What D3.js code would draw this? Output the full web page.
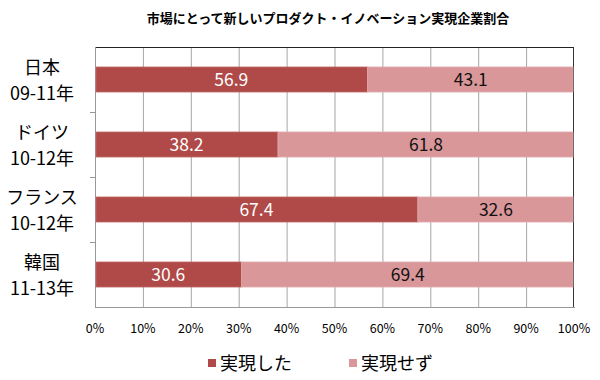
<!DOCTYPE html>
<html>
<head>
<meta charset="utf-8">
<script src="https://cdn.jsdelivr.net/npm/d3@7"></script>
<style>
body { margin: 0; background: #fff; }
svg { font-family: "Noto Sans CJK JP", "Noto Sans", sans-serif; }
</style>
</head>
<body>
<script>
// chart data
var countries = ["日本", "ドイツ", "フランス", "韓国"];
var periods = ["09-11年", "10-12年", "10-12年", "11-13年"];
var realized = [56.9, 38.2, 67.4, 30.6];
var notRealized = [43.1, 61.8, 32.6, 69.4];
var seriesNames = ["実現した", "実現せず"];
var seriesColors = ["#b04a48", "#d9979a"];
var xTicks = [0, 10, 20, 30, 40, 50, 60, 70, 80, 90, 100];

var width = 600, height = 380;
var plotLeft = 95, plotRight = 574, plotTop = 47, plotBottom = 307;

var svg = d3.select("body").append("svg")
    .attr("width", width)
    .attr("height", height);

var x = d3.scaleLinear().domain([0, 100]).range([plotLeft, plotRight]);
var y = d3.scaleBand().domain(countries).range([plotTop, plotBottom]).paddingInner(0.615).paddingOuter(0.3075);

// title
svg.append("text")
    .attr("x", 328).attr("y", 23)
    .attr("text-anchor", "middle")
    .style("font-size", "13px")
    .style("font-weight", "bold")
    .text("市場にとって新しいプロダクト・イノベーション実現企業割合");

// grid
svg.append("g").selectAll("line")
    .data(xTicks.slice(1, -1))
    .enter().append("line")
    .attr("x1", d => x(d) + 0.5).attr("x2", d => x(d) + 0.5)
    .attr("y1", plotTop).attr("y2", plotBottom)
    .attr("stroke", "#a6a6a6");

// frame
svg.append("line").attr("x1", plotLeft).attr("x2", plotRight).attr("y1", plotTop + 0.5).attr("y2", plotTop + 0.5).attr("stroke", "#222");
svg.append("line").attr("x1", plotRight - 0.5).attr("x2", plotRight - 0.5).attr("y1", plotTop).attr("y2", plotBottom).attr("stroke", "#333");
svg.append("line").attr("x1", plotLeft).attr("x2", plotRight + 1).attr("y1", plotBottom + 0.5).attr("y2", plotBottom + 0.5).attr("stroke", "#999");
svg.append("line").attr("x1", plotLeft + 0.5).attr("x2", plotLeft + 0.5).attr("y1", plotTop).attr("y2", plotBottom).attr("stroke", "#999");

// category ticks
svg.append("g").selectAll("line")
    .data(countries.slice(1))
    .enter().append("line")
    .attr("x1", plotLeft - 5).attr("x2", plotLeft)
    .attr("y1", d => y(d) - y.step() * y.paddingInner() / 2 + 0.5)
    .attr("y2", d => y(d) - y.step() * y.paddingInner() / 2 + 0.5)
    .attr("stroke", "#999");

// bars
var rows = countries.map(function(c, i) {
    return {country: c, period: periods[i], a: realized[i], b: notRealized[i]};
});

var g = svg.append("g").selectAll("g")
    .data(rows)
    .enter().append("g");

g.append("rect")
    .attr("x", d => x(0) + 1)
    .attr("y", d => y(d.country))
    .attr("width", d => x(d.a) - x(0) - 1)
    .attr("height", y.bandwidth())
    .attr("fill", seriesColors[0])
    .attr("stroke", "#c26a68").attr("stroke-width", 0.8);

g.append("rect")
    .attr("x", d => x(d.a))
    .attr("y", d => y(d.country))
    .attr("width", d => x(d.a + d.b) - x(d.a) - 1)
    .attr("height", y.bandwidth())
    .attr("fill", seriesColors[1])
    .attr("stroke", "#e0aaad").attr("stroke-width", 0.8);

g.append("text")
    .attr("x", d => x(d.a / 2))
    .attr("y", d => y(d.country) + y.bandwidth() / 2 + 6)
    .attr("text-anchor", "middle")
    .attr("fill", "#fff")
    .style("font-size", "17.5px")
    .text(d => d.a.toFixed(1));

g.append("text")
    .attr("x", d => x(d.a + d.b / 2))
    .attr("y", d => y(d.country) + y.bandwidth() / 2 + 6)
    .attr("text-anchor", "middle")
    .attr("fill", "#111")
    .style("font-size", "17.5px")
    .text(d => d.b.toFixed(1));

// category labels
g.append("text")
    .attr("x", 42)
    .attr("y", d => y(d.country) + y.bandwidth() / 2 - 6)
    .attr("text-anchor", "middle")
    .style("font-size", "18px")
    .text(d => d.country);

g.append("text")
    .attr("x", 42)
    .attr("y", d => y(d.country) + y.bandwidth() / 2 + 20)
    .attr("text-anchor", "middle")
    .style("font-size", "18px")
    .text(d => d.period);

// x tick labels
svg.append("g").selectAll("text")
    .data(xTicks)
    .enter().append("text")
    .attr("x", d => x(d))
    .attr("y", 333)
    .attr("text-anchor", "middle")
    .style("font-size", "12.5px")
    .text(d => d + "%");

// legend
var legendX = [208, 349];
var leg = svg.append("g").selectAll("g")
    .data(seriesNames)
    .enter().append("g")
    .attr("transform", (d, i) => "translate(" + legendX[i] + ",0)");

leg.append("rect")
    .attr("x", 0).attr("y", 359)
    .attr("width", 8).attr("height", 8)
    .attr("fill", (d, i) => seriesColors[i]);

leg.append("text")
    .attr("x", 12).attr("y", 370)
    .style("font-size", "18px")
    .text(d => d);
</script>
</body>
</html>
